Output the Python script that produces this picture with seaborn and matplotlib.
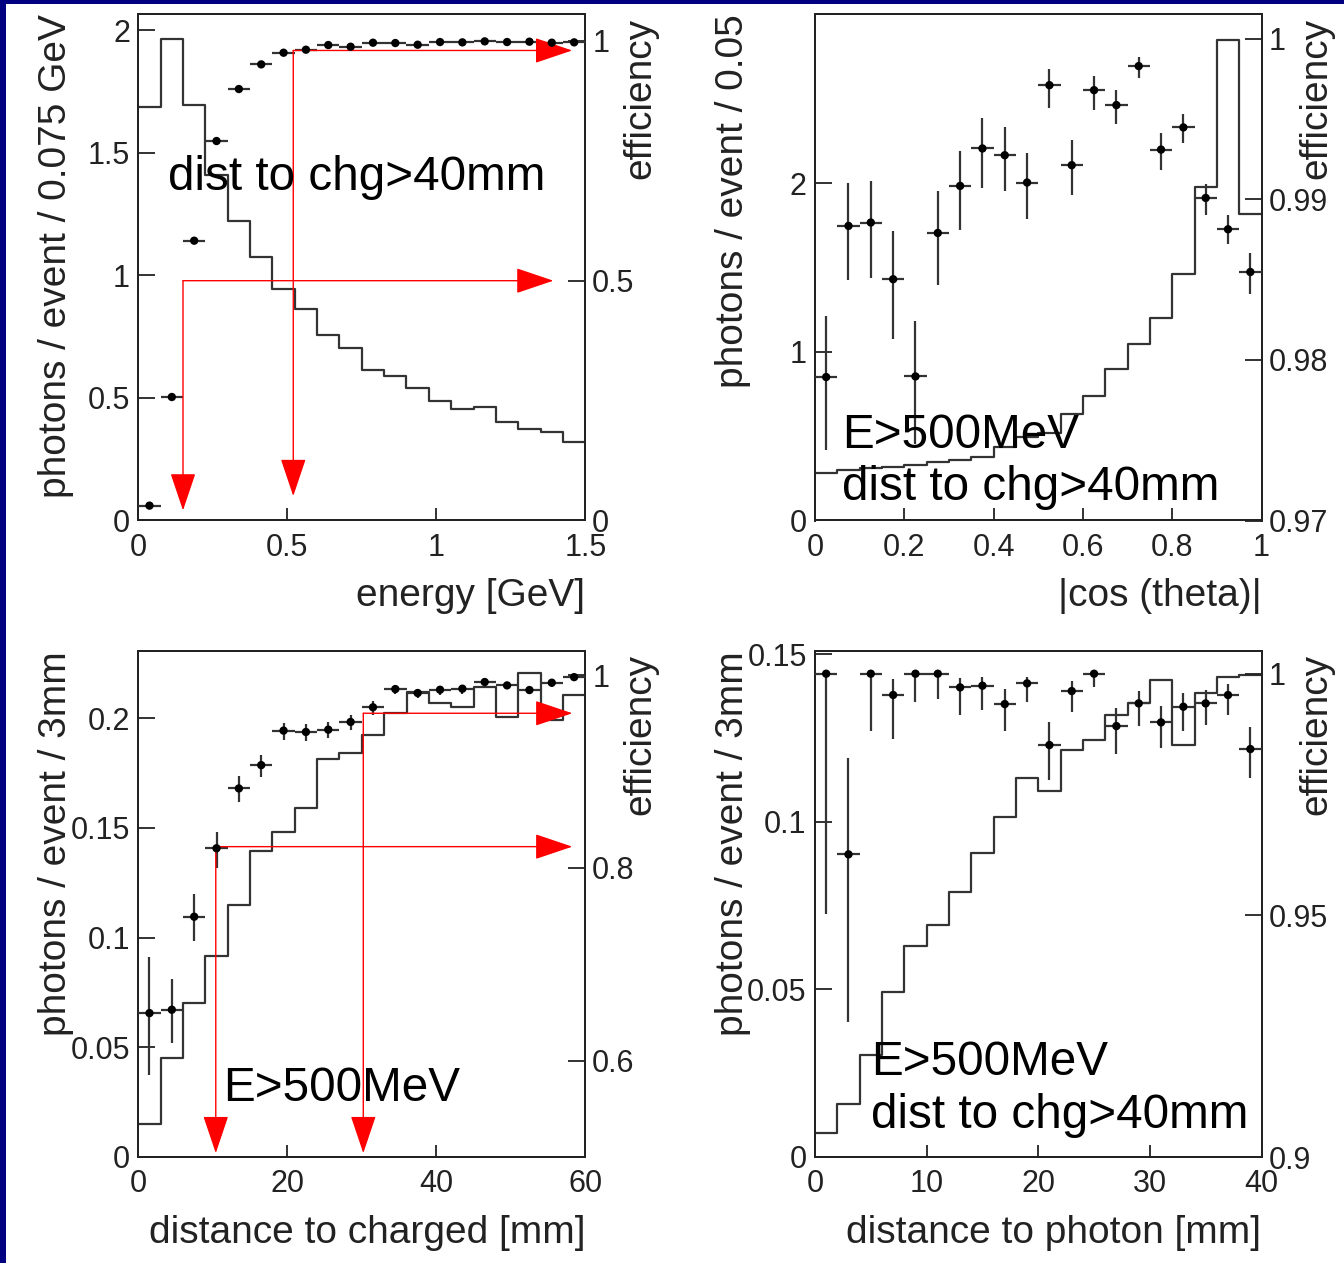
import numpy as np
import pandas as pd
import matplotlib
matplotlib.use("Agg")
import matplotlib.pyplot as plt
import seaborn as sns
from matplotlib.patches import Rectangle

sns.set_theme(style="ticks")
plt.rcParams["font.family"] = ["Liberation Sans", "DejaVu Sans"]

W, H, DPI = 1344, 1263, 100

# ---------------- photons per event vs energy (0.075 GeV bins) ----------------
energy_edges = np.linspace(0.0, 1.5, 21)
energy_photons = [1.689, 1.965, 1.696, 1.409, 1.223, 1.075, 0.943, 0.862, 0.756, 0.704,
                  0.616, 0.591, 0.542, 0.486, 0.454, 0.462, 0.403, 0.372, 0.362, 0.322]
energy_eff = [0.031, 0.2575, 0.5834, 0.7912, 0.8996, 0.951, 0.9753, 0.9816, 0.9913, 0.9878,
              0.9962, 0.9955, 0.992, 0.9976, 0.9969, 0.999, 0.9976, 0.9983, 0.9962, 0.9969]
energy_eff_lo = [0.0] * 20
energy_eff_hi = [0.0] * 20

# ---------------- photons per event vs |cos(theta)| (0.05 bins) ----------------
cos_edges = np.linspace(0.0, 1.0, 21)
cos_photons = [0.280, 0.300, 0.312, 0.320, 0.330, 0.345, 0.360, 0.376, 0.434, 0.493,
               0.520, 0.630, 0.736, 0.901, 1.045, 1.203, 1.460, 1.978, 2.848, 1.820]
cos_eff = [0.97893, 0.98834, 0.98855, 0.98502, 0.97897, 0.9879, 0.99083, 0.99316, 0.99274, 0.99104,
           0.9971, 0.99212, 0.99679, 0.99586, 0.99829, 0.99309, 0.99447, 0.99008, 0.98813, 0.98547]
cos_eff_lo = [0.00457, 0.00339, 0.00343, 0.0037, 0.0042, 0.00322, 0.00276, 0.00245, 0.00224, 0.0023,
              0.00145, 0.00187, 0.00125, 0.00118, 0.00077, 0.00125, 0.0010, 0.00108, 0.00093, 0.00135]
cos_eff_hi = [0.00378, 0.00268, 0.0026, 0.00301, 0.00345, 0.0026, 0.00218, 0.00187, 0.00177, 0.00185,
              0.00098, 0.00156, 0.00089, 0.00093, 0.00058, 0.00104, 0.00083, 0.00089, 0.00087, 0.0012]

# ---------------- photons per event vs distance to charged track (3 mm bins) ----------------
chg_edges = np.linspace(0.0, 60.0, 21)
chg_photons = [0.0149, 0.045, 0.0701, 0.0918, 0.1149, 0.1395, 0.1483, 0.159, 0.1813, 0.1843,
               0.1924, 0.2023, 0.2117, 0.2068, 0.2053, 0.2144, 0.2005, 0.2205, 0.1992, 0.2106]
chg_eff = [0.6493, 0.6528, 0.7493, 0.8203, 0.8824, 0.9066, 0.9424, 0.941, 0.9434, 0.9514,
           0.9666, 0.9855, 0.9814, 0.9848, 0.9859, 0.9928, 0.9893, 0.9845, 0.9921, 0.9979]
chg_eff_lo = [0.0645, 0.035, 0.0255, 0.020, 0.0141, 0.0124, 0.0093, 0.0097, 0.0086, 0.0079,
              0.0076, 0.005, 0.005, 0.005, 0.005, 0.004, 0.004, 0.004, 0.004, 0.004]
chg_eff_hi = [0.0586, 0.032, 0.0234, 0.0172, 0.0128, 0.011, 0.0079, 0.0083, 0.0079, 0.0076,
              0.0062, 0.004, 0.004, 0.004, 0.004, 0.003, 0.003, 0.003, 0.003, 0.002]

# ---------------- photons per event vs distance to other photon (2 mm bins) ----------------
pho_edges = np.linspace(0.0, 40.0, 21)
pho_photons = [0.00706, 0.0158, 0.0304, 0.0491, 0.063, 0.0692, 0.0789, 0.0906, 0.1013, 0.1131,
               0.1091, 0.1214, 0.1245, 0.1318, 0.1353, 0.1422, 0.1229, 0.1383, 0.143, 0.1437]
pho_eff = [1.0, 0.96262, 1.0, 0.9956, 1.0, 1.0, 0.99717, 0.99752, 0.99372, 0.998,
           0.98524, 0.99641, 1.0, 0.98917, 0.99386, 0.98993, 0.99317, 0.99386, 0.99559, 0.98441]
pho_eff_lo = [0.0498, 0.0346, 0.0119, 0.0092, 0.0059, 0.0052, 0.0057, 0.005, 0.0056, 0.0039,
              0.0072, 0.0043, 0.0028, 0.0057, 0.0047, 0.0052, 0.005, 0.0045, 0.0041, 0.0059]
pho_eff_hi = [0.0, 0.02, 0.0, 0.0034, 0.0, 0.0, 0.002, 0.0017, 0.0032, 0.0014,
              0.0048, 0.0021, 0.0, 0.0037, 0.0026, 0.0034, 0.0029, 0.0028, 0.0022, 0.0046]

# red guide arrows on the efficiency scale: (x_start, y_start, x_tip, y_tip)
energy_arrows = [(0.15, 0.50, 1.393, 0.50), (0.15, 0.50, 0.15, 0.021),
                 (0.52, 0.98, 1.456, 0.98), (0.52, 0.98, 0.52, 0.051)]
chg_arrows = [(10.4, 0.822, 58.26, 0.822), (10.4, 0.822, 10.4, 0.504),
              (30.2, 0.9604, 58.26, 0.9604), (30.2, 0.9604, 30.2, 0.504)]

INK = "#222222"
LINE = "#333333"

fig = plt.figure(figsize=(W / DPI, H / DPI), dpi=DPI)
fig.patch.set_facecolor("white")


def px_box(x0, y0, x1, y1):
    return [x0 / W, 1 - y1 / H, (x1 - x0) / W, (y1 - y0) / H]


def fx(x):
    return x / W


def fy(y):
    return 1 - y / H


def panel(box, edges, photons, eff, eff_lo, eff_hi, left_lim, right_lim,
          left_ticks, left_labels, right_ticks, right_labels, x_ticks, x_labels,
          xlabel, ylabel, arrows=()):
    ax = fig.add_axes(px_box(*box))
    centers = 0.5 * (edges[:-1] + edges[1:])
    half = 0.5 * (edges[1] - edges[0])
    df = pd.DataFrame({"x": centers, "photons": photons, "eff": eff})

    sns.histplot(data=df, x="x", weights="photons", bins=list(edges), element="step",
                 fill=False, color=LINE, linewidth=1.6, ax=ax)
    ax.set_xlim(edges[0], edges[-1])
    ax.set_ylim(*left_lim)
    ax.set_xlabel("")
    ax.set_ylabel("")
    ax.set_facecolor("white")

    ax2 = ax.twinx()
    ax2.errorbar(centers, eff, yerr=[eff_lo, eff_hi], xerr=half, fmt="none",
                 ecolor=LINE, elinewidth=1.6, capsize=0, zorder=3)
    sns.scatterplot(data=df, x="x", y="eff", ax=ax2, color="black", s=36, edgecolor="none",
                    zorder=4, legend=False)
    ax2.set_ylim(*right_lim)
    ax2.set_xlim(edges[0], edges[-1])
    ax2.set_ylabel("")
    ax2.set_xlabel("")

    ax.set_xticks(x_ticks)
    ax.set_xticklabels(x_labels)
    ax.set_yticks(left_ticks)
    ax.set_yticklabels(left_labels)
    ax2.set_yticks(right_ticks)
    ax2.set_yticklabels(right_labels)

    for a in (ax, ax2):
        for s in a.spines.values():
            s.set_linewidth(1.4)
            s.set_color(INK)
    ax.tick_params(axis="x", direction="in", length=8.5, width=1.3, labelsize=22, pad=9,
                   colors=INK, top=False, bottom=True)
    ax.tick_params(axis="y", direction="in", length=12, width=1.3, labelsize=22, pad=6,
                   colors=INK, left=True, right=False)
    ax2.tick_params(axis="y", direction="in", length=12, width=1.3, labelsize=22, pad=5,
                    colors=INK, right=True, left=False)

    for (xs, ys, xt, yt) in arrows:
        ax2.annotate("", xy=(xt, yt), xytext=(xs, ys), annotation_clip=False,
                     arrowprops=dict(arrowstyle="-|>,head_length=0.8,head_width=0.27",
                                     mutation_scale=30, color="#ff0000", lw=1.0,
                                     shrinkA=0, shrinkB=0))

    x0, y0, x1, y1 = box
    fig.text(fx(x1), fy(y1 + 86), xlabel, ha="right", va="baseline", fontsize=28, color=INK)
    fig.text(fx(x0 - 82), fy(y0), ylabel, rotation=90, ha="center", va="top",
             fontsize=28, color=INK)
    fig.text(fx(x1 + 55), fy(y0 + 3), "efficiency", rotation=90, ha="center", va="top",
             fontsize=28, color=INK)
    return ax, ax2


panel((138.3, 14.5, 585.3, 520.5), energy_edges, energy_photons, energy_eff,
      energy_eff_lo, energy_eff_hi, (0, 2.065), (0, 1.055),
      [0, 0.5, 1, 1.5, 2], ["0", "0.5", "1", "1.5", "2"],
      [0, 0.5, 1], ["0", "0.5", "1"],
      [0, 0.5, 1, 1.5], ["0", "0.5", "1", "1.5"],
      "energy [GeV]", "photons / event / 0.075 GeV", energy_arrows)

panel((815, 14.5, 1261.5, 520.5), cos_edges, cos_photons, cos_eff,
      cos_eff_lo, cos_eff_hi, (0, 3.0), (0.97, 1.0015),
      [0, 1, 2], ["0", "1", "2"],
      [0.97, 0.98, 0.99, 1.0], ["0.97", "0.98", "0.99", "1"],
      [0, 0.2, 0.4, 0.6, 0.8, 1.0], ["0", "0.2", "0.4", "0.6", "0.8", "1"],
      "|cos (theta)|", "photons / event / 0.05")

panel((138.3, 651, 585.3, 1157), chg_edges, chg_photons, chg_eff,
      chg_eff_lo, chg_eff_hi, (0, 0.2306), (0.5, 1.025),
      [0, 0.05, 0.1, 0.15, 0.2], ["0", "0.05", "0.1", "0.15", "0.2"],
      [0.6, 0.8, 1.0], ["0.6", "0.8", "1"],
      [0, 20, 40, 60], ["0", "20", "40", "60"],
      "distance to charged [mm]", "photons / event / 3mm", chg_arrows)

panel((815, 651, 1261.5, 1157), pho_edges, pho_photons, pho_eff,
      pho_eff_lo, pho_eff_hi, (0, 0.1509), (0.9, 1.0047),
      [0, 0.05, 0.1, 0.15], ["0", "0.05", "0.1", "0.15"],
      [0.9, 0.95, 1.0], ["0.9", "0.95", "1"],
      [0, 10, 20, 30, 40], ["0", "10", "20", "30", "40"],
      "distance to photon [mm]", "photons / event / 3mm")

# selection notes inside the panels
note = dict(fontsize=34.3, color="black", ha="left", va="baseline", zorder=10)
fig.text(fx(168), fy(190), "dist to chg>40mm", **note)
fig.text(fx(842), fy(448), "E>500MeV", **note)
fig.text(fx(842), fy(500), "dist to chg>40mm", **note)
fig.text(fx(223), fy(1101), "E>500MeV", **note)
fig.text(fx(871), fy(1075), "E>500MeV", **note)
fig.text(fx(871), fy(1128), "dist to chg>40mm", **note)

# navy slide frame along the top and left edges
fig.add_artist(Rectangle((0, 1 - 4 / H), 1, 4 / H, transform=fig.transFigure,
                         facecolor="#000080", edgecolor="none", zorder=20))
fig.add_artist(Rectangle((0, 0), 6 / W, 1, transform=fig.transFigure,
                         facecolor="#000080", edgecolor="none", zorder=20))

fig.savefig("out.png", dpi=DPI, facecolor="white")
